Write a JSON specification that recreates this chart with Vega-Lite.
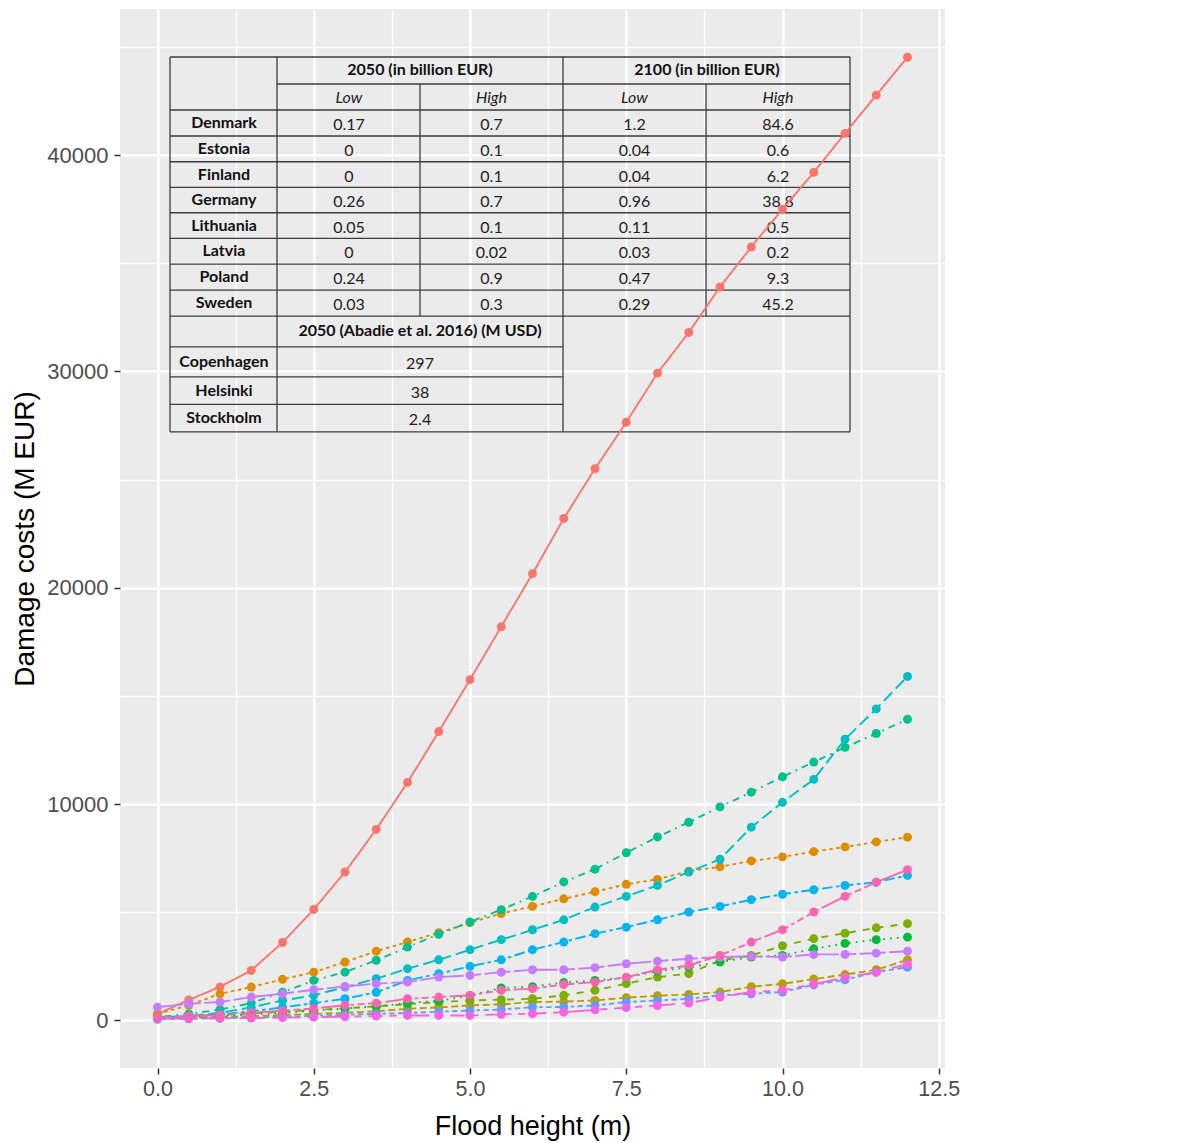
{
"$schema":"https://vega.github.io/schema/vega-lite/v6.json",
"autosize":{"type":"none"},
"width":825,"height":1059,
"padding":{"left":120,"top":9,"right":233,"bottom":75},
"background":"white",
"config":{"view":{"fill":"#EBEBEB","stroke":null},"font":"Liberation Sans"},
"datasets":{
"lines":[
{"x1":0.2,"x2":11.08,"y1":44532,"y2":44532},
{"x1":1.912,"x2":11.08,"y1":43283,"y2":43283},
{"x1":0.2,"x2":11.08,"y1":42081,"y2":42081},
{"x1":0.2,"x2":11.08,"y1":40879,"y2":40879},
{"x1":0.2,"x2":11.08,"y1":39690,"y2":39690},
{"x1":0.2,"x2":11.08,"y1":38506,"y2":38506},
{"x1":0.2,"x2":11.08,"y1":37332,"y2":37332},
{"x1":0.2,"x2":11.08,"y1":36148,"y2":36148},
{"x1":0.2,"x2":11.08,"y1":34960,"y2":34960},
{"x1":0.2,"x2":11.08,"y1":33757,"y2":33757},
{"x1":0.2,"x2":11.08,"y1":32555,"y2":32555},
{"x1":0.2,"x2":6.488,"y1":31135,"y2":31135},
{"x1":0.2,"x2":6.488,"y1":29748,"y2":29748},
{"x1":0.2,"x2":6.488,"y1":28472,"y2":28472},
{"x1":0.2,"x2":11.08,"y1":27205,"y2":27205},
{"x1":0.2,"x2":0.2,"y1":44532,"y2":27205},
{"x1":1.912,"x2":1.912,"y1":44532,"y2":27205},
{"x1":4.2,"x2":4.2,"y1":43283,"y2":32555},
{"x1":6.488,"x2":6.488,"y1":44532,"y2":27205},
{"x1":8.776,"x2":8.776,"y1":43283,"y2":32555},
{"x1":11.08,"x2":11.08,"y1":44532,"y2":27205}
],
"cells":[
{"k":"head","t":"2050 (in billion EUR)","cx":4.2,"cy":43908},
{"k":"head","t":"2100 (in billion EUR)","cx":8.792,"cy":43908},
{"k":"head","t":"2050 (Abadie et al. 2016) (M USD)","cx":4.2,"cy":31846},
{"k":"sub","t":"Low","cx":3.064,"cy":42682},
{"k":"sub","t":"High","cx":5.344,"cy":42682},
{"k":"sub","t":"Low","cx":7.632,"cy":42682},
{"k":"sub","t":"High","cx":9.928,"cy":42682},
{"k":"head","t":"Denmark","cx":1.064,"cy":41480},
{"k":"head","t":"Estonia","cx":1.064,"cy":40284},
{"k":"head","t":"Finland","cx":1.064,"cy":39098},
{"k":"head","t":"Germany","cx":1.064,"cy":37919},
{"k":"head","t":"Lithuania","cx":1.064,"cy":36740},
{"k":"head","t":"Latvia","cx":1.064,"cy":35554},
{"k":"head","t":"Poland","cx":1.064,"cy":34358},
{"k":"head","t":"Sweden","cx":1.064,"cy":33156},
{"k":"head","t":"Copenhagen","cx":1.064,"cy":30442},
{"k":"head","t":"Helsinki","cx":1.064,"cy":29110},
{"k":"head","t":"Stockholm","cx":1.064,"cy":27838},
{"k":"val","t":"0.17","cx":3.064,"cy":41480},{"k":"val","t":"0.7","cx":5.344,"cy":41480},{"k":"val","t":"1.2","cx":7.632,"cy":41480},{"k":"val","t":"84.6","cx":9.928,"cy":41480},
{"k":"val","t":"0","cx":3.064,"cy":40284},{"k":"val","t":"0.1","cx":5.344,"cy":40284},{"k":"val","t":"0.04","cx":7.632,"cy":40284},{"k":"val","t":"0.6","cx":9.928,"cy":40284},
{"k":"val","t":"0","cx":3.064,"cy":39098},{"k":"val","t":"0.1","cx":5.344,"cy":39098},{"k":"val","t":"0.04","cx":7.632,"cy":39098},{"k":"val","t":"6.2","cx":9.928,"cy":39098},
{"k":"val","t":"0.26","cx":3.064,"cy":37919},{"k":"val","t":"0.7","cx":5.344,"cy":37919},{"k":"val","t":"0.96","cx":7.632,"cy":37919},{"k":"val","t":"38.8","cx":9.928,"cy":37919},
{"k":"val","t":"0.05","cx":3.064,"cy":36740},{"k":"val","t":"0.1","cx":5.344,"cy":36740},{"k":"val","t":"0.11","cx":7.632,"cy":36740},{"k":"val","t":"0.5","cx":9.928,"cy":36740},
{"k":"val","t":"0","cx":3.064,"cy":35554},{"k":"val","t":"0.02","cx":5.344,"cy":35554},{"k":"val","t":"0.03","cx":7.632,"cy":35554},{"k":"val","t":"0.2","cx":9.928,"cy":35554},
{"k":"val","t":"0.24","cx":3.064,"cy":34358},{"k":"val","t":"0.9","cx":5.344,"cy":34358},{"k":"val","t":"0.47","cx":7.632,"cy":34358},{"k":"val","t":"9.3","cx":9.928,"cy":34358},
{"k":"val","t":"0.03","cx":3.064,"cy":33156},{"k":"val","t":"0.3","cx":5.344,"cy":33156},{"k":"val","t":"0.29","cx":7.632,"cy":33156},{"k":"val","t":"45.2","cx":9.928,"cy":33156},
{"k":"val","t":"297","cx":4.2,"cy":30442},{"k":"val","t":"38","cx":4.2,"cy":29110},{"k":"val","t":"2.4","cx":4.2,"cy":27838}
],
"series":[
{"c":"Copenhagen","h":0,"v":300},{"c":"Copenhagen","h":0.5,"v":950},{"c":"Copenhagen","h":1,"v":1550},{"c":"Copenhagen","h":1.5,"v":2310},{"c":"Copenhagen","h":2,"v":3600},{"c":"Copenhagen","h":2.5,"v":5130},{"c":"Copenhagen","h":3,"v":6860},{"c":"Copenhagen","h":3.5,"v":8830},{"c":"Copenhagen","h":4,"v":11000},{"c":"Copenhagen","h":4.5,"v":13350},{"c":"Copenhagen","h":5,"v":15750},{"c":"Copenhagen","h":5.5,"v":18200},{"c":"Copenhagen","h":6,"v":20650},{"c":"Copenhagen","h":6.5,"v":23200},{"c":"Copenhagen","h":7,"v":25500},{"c":"Copenhagen","h":7.5,"v":27650},{"c":"Copenhagen","h":8,"v":29920},{"c":"Copenhagen","h":8.5,"v":31800},{"c":"Copenhagen","h":9,"v":33900},{"c":"Copenhagen","h":9.5,"v":35750},{"c":"Copenhagen","h":10,"v":37500},{"c":"Copenhagen","h":10.5,"v":39200},{"c":"Copenhagen","h":11,"v":41000},{"c":"Copenhagen","h":11.5,"v":42770},{"c":"Copenhagen","h":12,"v":44520},
{"c":"Gdansk","h":0,"v":300},{"c":"Gdansk","h":0.5,"v":700},{"c":"Gdansk","h":1,"v":1230},{"c":"Gdansk","h":1.5,"v":1540},{"c":"Gdansk","h":2,"v":1900},{"c":"Gdansk","h":2.5,"v":2230},{"c":"Gdansk","h":3,"v":2700},{"c":"Gdansk","h":3.5,"v":3200},{"c":"Gdansk","h":4,"v":3630},{"c":"Gdansk","h":4.5,"v":4050},{"c":"Gdansk","h":5,"v":4520},{"c":"Gdansk","h":5.5,"v":4940},{"c":"Gdansk","h":6,"v":5270},{"c":"Gdansk","h":6.5,"v":5620},{"c":"Gdansk","h":7,"v":5950},{"c":"Gdansk","h":7.5,"v":6290},{"c":"Gdansk","h":8,"v":6520},{"c":"Gdansk","h":8.5,"v":6900},{"c":"Gdansk","h":9,"v":7100},{"c":"Gdansk","h":9.5,"v":7370},{"c":"Gdansk","h":10,"v":7560},{"c":"Gdansk","h":10.5,"v":7800},{"c":"Gdansk","h":11,"v":8020},{"c":"Gdansk","h":11.5,"v":8250},{"c":"Gdansk","h":12,"v":8470},
{"c":"Helsinki","h":0,"v":100},{"c":"Helsinki","h":0.5,"v":120},{"c":"Helsinki","h":1,"v":150},{"c":"Helsinki","h":1.5,"v":200},{"c":"Helsinki","h":2,"v":250},{"c":"Helsinki","h":2.5,"v":300},{"c":"Helsinki","h":3,"v":350},{"c":"Helsinki","h":3.5,"v":420},{"c":"Helsinki","h":4,"v":540},{"c":"Helsinki","h":4.5,"v":600},{"c":"Helsinki","h":5,"v":690},{"c":"Helsinki","h":5.5,"v":740},{"c":"Helsinki","h":6,"v":850},{"c":"Helsinki","h":6.5,"v":870},{"c":"Helsinki","h":7,"v":920},{"c":"Helsinki","h":7.5,"v":1050},{"c":"Helsinki","h":8,"v":1140},{"c":"Helsinki","h":8.5,"v":1200},{"c":"Helsinki","h":9,"v":1310},{"c":"Helsinki","h":9.5,"v":1560},{"c":"Helsinki","h":10,"v":1690},{"c":"Helsinki","h":10.5,"v":1910},{"c":"Helsinki","h":11,"v":2120},{"c":"Helsinki","h":11.5,"v":2340},{"c":"Helsinki","h":12,"v":2800},
{"c":"Kalmar","h":0,"v":150},{"c":"Kalmar","h":0.5,"v":200},{"c":"Kalmar","h":1,"v":250},{"c":"Kalmar","h":1.5,"v":320},{"c":"Kalmar","h":2,"v":400},{"c":"Kalmar","h":2.5,"v":480},{"c":"Kalmar","h":3,"v":560},{"c":"Kalmar","h":3.5,"v":650},{"c":"Kalmar","h":4,"v":750},{"c":"Kalmar","h":4.5,"v":850},{"c":"Kalmar","h":5,"v":920},{"c":"Kalmar","h":5.5,"v":960},{"c":"Kalmar","h":6,"v":1000},{"c":"Kalmar","h":6.5,"v":1160},{"c":"Kalmar","h":7,"v":1390},{"c":"Kalmar","h":7.5,"v":1700},{"c":"Kalmar","h":8,"v":2000},{"c":"Kalmar","h":8.5,"v":2160},{"c":"Kalmar","h":9,"v":2770},{"c":"Kalmar","h":9.5,"v":3000},{"c":"Kalmar","h":10,"v":3450},{"c":"Kalmar","h":10.5,"v":3780},{"c":"Kalmar","h":11,"v":4030},{"c":"Kalmar","h":11.5,"v":4280},{"c":"Kalmar","h":12,"v":4470},
{"c":"Klaipeda","h":0,"v":100},{"c":"Klaipeda","h":0.5,"v":150},{"c":"Klaipeda","h":1,"v":200},{"c":"Klaipeda","h":1.5,"v":280},{"c":"Klaipeda","h":2,"v":350},{"c":"Klaipeda","h":2.5,"v":450},{"c":"Klaipeda","h":3,"v":550},{"c":"Klaipeda","h":3.5,"v":650},{"c":"Klaipeda","h":4,"v":800},{"c":"Klaipeda","h":4.5,"v":900},{"c":"Klaipeda","h":5,"v":1150},{"c":"Klaipeda","h":5.5,"v":1500},{"c":"Klaipeda","h":6,"v":1560},{"c":"Klaipeda","h":6.5,"v":1750},{"c":"Klaipeda","h":7,"v":1850},{"c":"Klaipeda","h":7.5,"v":1980},{"c":"Klaipeda","h":8,"v":2280},{"c":"Klaipeda","h":8.5,"v":2460},{"c":"Klaipeda","h":9,"v":2700},{"c":"Klaipeda","h":9.5,"v":2930},{"c":"Klaipeda","h":10,"v":3000},{"c":"Klaipeda","h":10.5,"v":3310},{"c":"Klaipeda","h":11,"v":3560},{"c":"Klaipeda","h":11.5,"v":3730},{"c":"Klaipeda","h":12,"v":3850},
{"c":"Malmö","h":0,"v":150},{"c":"Malmö","h":0.5,"v":300},{"c":"Malmö","h":1,"v":500},{"c":"Malmö","h":1.5,"v":800},{"c":"Malmö","h":2,"v":1300},{"c":"Malmö","h":2.5,"v":1850},{"c":"Malmö","h":3,"v":2230},{"c":"Malmö","h":3.5,"v":2780},{"c":"Malmö","h":4,"v":3390},{"c":"Malmö","h":4.5,"v":3980},{"c":"Malmö","h":5,"v":4550},{"c":"Malmö","h":5.5,"v":5120},{"c":"Malmö","h":6,"v":5730},{"c":"Malmö","h":6.5,"v":6400},{"c":"Malmö","h":7,"v":6990},{"c":"Malmö","h":7.5,"v":7750},{"c":"Malmö","h":8,"v":8480},{"c":"Malmö","h":8.5,"v":9160},{"c":"Malmö","h":9,"v":9870},{"c":"Malmö","h":9.5,"v":10550},{"c":"Malmö","h":10,"v":11260},{"c":"Malmö","h":10.5,"v":11940},{"c":"Malmö","h":11,"v":12620},{"c":"Malmö","h":11.5,"v":13260},{"c":"Malmö","h":12,"v":13920},
{"c":"Riga","h":0,"v":100},{"c":"Riga","h":0.5,"v":200},{"c":"Riga","h":1,"v":350},{"c":"Riga","h":1.5,"v":600},{"c":"Riga","h":2,"v":920},{"c":"Riga","h":2.5,"v":1160},{"c":"Riga","h":3,"v":1540},{"c":"Riga","h":3.5,"v":1930},{"c":"Riga","h":4,"v":2390},{"c":"Riga","h":4.5,"v":2800},{"c":"Riga","h":5,"v":3270},{"c":"Riga","h":5.5,"v":3730},{"c":"Riga","h":6,"v":4190},{"c":"Riga","h":6.5,"v":4650},{"c":"Riga","h":7,"v":5240},{"c":"Riga","h":7.5,"v":5730},{"c":"Riga","h":8,"v":6240},{"c":"Riga","h":8.5,"v":6860},{"c":"Riga","h":9,"v":7450},{"c":"Riga","h":9.5,"v":8930},{"c":"Riga","h":10,"v":10080},{"c":"Riga","h":10.5,"v":11140},{"c":"Riga","h":11,"v":13000},{"c":"Riga","h":11.5,"v":14400},{"c":"Riga","h":12,"v":15900},
{"c":"Rostock","h":0,"v":100},{"c":"Rostock","h":0.5,"v":180},{"c":"Rostock","h":1,"v":280},{"c":"Rostock","h":1.5,"v":420},{"c":"Rostock","h":2,"v":600},{"c":"Rostock","h":2.5,"v":800},{"c":"Rostock","h":3,"v":1000},{"c":"Rostock","h":3.5,"v":1300},{"c":"Rostock","h":4,"v":1850},{"c":"Rostock","h":4.5,"v":2160},{"c":"Rostock","h":5,"v":2500},{"c":"Rostock","h":5.5,"v":2800},{"c":"Rostock","h":6,"v":3270},{"c":"Rostock","h":6.5,"v":3620},{"c":"Rostock","h":7,"v":4010},{"c":"Rostock","h":7.5,"v":4310},{"c":"Rostock","h":8,"v":4650},{"c":"Rostock","h":8.5,"v":5010},{"c":"Rostock","h":9,"v":5270},{"c":"Rostock","h":9.5,"v":5580},{"c":"Rostock","h":10,"v":5830},{"c":"Rostock","h":10.5,"v":6040},{"c":"Rostock","h":11,"v":6240},{"c":"Rostock","h":11.5,"v":6390},{"c":"Rostock","h":12,"v":6700},
{"c":"Stockholm","h":0,"v":50},{"c":"Stockholm","h":0.5,"v":70},{"c":"Stockholm","h":1,"v":100},{"c":"Stockholm","h":1.5,"v":130},{"c":"Stockholm","h":2,"v":170},{"c":"Stockholm","h":2.5,"v":210},{"c":"Stockholm","h":3,"v":260},{"c":"Stockholm","h":3.5,"v":300},{"c":"Stockholm","h":4,"v":340},{"c":"Stockholm","h":4.5,"v":400},{"c":"Stockholm","h":5,"v":460},{"c":"Stockholm","h":5.5,"v":500},{"c":"Stockholm","h":6,"v":610},{"c":"Stockholm","h":6.5,"v":620},{"c":"Stockholm","h":7,"v":690},{"c":"Stockholm","h":7.5,"v":850},{"c":"Stockholm","h":8,"v":920},{"c":"Stockholm","h":8.5,"v":1000},{"c":"Stockholm","h":9,"v":1160},{"c":"Stockholm","h":9.5,"v":1230},{"c":"Stockholm","h":10,"v":1310},{"c":"Stockholm","h":10.5,"v":1640},{"c":"Stockholm","h":11,"v":1880},{"c":"Stockholm","h":11.5,"v":2230},{"c":"Stockholm","h":12,"v":2460},
{"c":"Szczecin","h":0,"v":610},{"c":"Szczecin","h":0.5,"v":770},{"c":"Szczecin","h":1,"v":850},{"c":"Szczecin","h":1.5,"v":1080},{"c":"Szczecin","h":2,"v":1230},{"c":"Szczecin","h":2.5,"v":1420},{"c":"Szczecin","h":3,"v":1570},{"c":"Szczecin","h":3.5,"v":1700},{"c":"Szczecin","h":4,"v":1770},{"c":"Szczecin","h":4.5,"v":2000},{"c":"Szczecin","h":5,"v":2080},{"c":"Szczecin","h":5.5,"v":2230},{"c":"Szczecin","h":6,"v":2340},{"c":"Szczecin","h":6.5,"v":2340},{"c":"Szczecin","h":7,"v":2440},{"c":"Szczecin","h":7.5,"v":2620},{"c":"Szczecin","h":8,"v":2740},{"c":"Szczecin","h":8.5,"v":2850},{"c":"Szczecin","h":9,"v":2930},{"c":"Szczecin","h":9.5,"v":2960},{"c":"Szczecin","h":10,"v":2930},{"c":"Szczecin","h":10.5,"v":3050},{"c":"Szczecin","h":11,"v":3050},{"c":"Szczecin","h":11.5,"v":3110},{"c":"Szczecin","h":12,"v":3200},
{"c":"Tallinn","h":0,"v":80},{"c":"Tallinn","h":0.5,"v":90},{"c":"Tallinn","h":1,"v":100},{"c":"Tallinn","h":1.5,"v":110},{"c":"Tallinn","h":2,"v":130},{"c":"Tallinn","h":2.5,"v":150},{"c":"Tallinn","h":3,"v":170},{"c":"Tallinn","h":3.5,"v":200},{"c":"Tallinn","h":4,"v":230},{"c":"Tallinn","h":4.5,"v":230},{"c":"Tallinn","h":5,"v":230},{"c":"Tallinn","h":5.5,"v":280},{"c":"Tallinn","h":6,"v":310},{"c":"Tallinn","h":6.5,"v":380},{"c":"Tallinn","h":7,"v":490},{"c":"Tallinn","h":7.5,"v":590},{"c":"Tallinn","h":8,"v":690},{"c":"Tallinn","h":8.5,"v":800},{"c":"Tallinn","h":9,"v":1080},{"c":"Tallinn","h":9.5,"v":1310},{"c":"Tallinn","h":10,"v":1390},{"c":"Tallinn","h":10.5,"v":1680},{"c":"Tallinn","h":11,"v":1980},{"c":"Tallinn","h":11.5,"v":2230},{"c":"Tallinn","h":12,"v":2600},
{"c":"Turku","h":0,"v":150},{"c":"Turku","h":0.5,"v":200},{"c":"Turku","h":1,"v":250},{"c":"Turku","h":1.5,"v":350},{"c":"Turku","h":2,"v":450},{"c":"Turku","h":2.5,"v":550},{"c":"Turku","h":3,"v":700},{"c":"Turku","h":3.5,"v":800},{"c":"Turku","h":4,"v":1000},{"c":"Turku","h":4.5,"v":1080},{"c":"Turku","h":5,"v":1160},{"c":"Turku","h":5.5,"v":1390},{"c":"Turku","h":6,"v":1470},{"c":"Turku","h":6.5,"v":1660},{"c":"Turku","h":7,"v":1770},{"c":"Turku","h":7.5,"v":2000},{"c":"Turku","h":8,"v":2340},{"c":"Turku","h":8.5,"v":2540},{"c":"Turku","h":9,"v":3000},{"c":"Turku","h":9.5,"v":3620},{"c":"Turku","h":10,"v":4190},{"c":"Turku","h":10.5,"v":5010},{"c":"Turku","h":11,"v":5730},{"c":"Turku","h":11.5,"v":6390},{"c":"Turku","h":12,"v":6970}
]},
"layer":[
{"data":{"name":"lines"},"mark":{"type":"rule","color":"#3C3C3C","strokeWidth":1.3},
 "encoding":{
  "x":{"field":"x1","type":"quantitative","title":"Flood height (m)","scale":{"domain":[-0.6,12.6],"nice":false,"zero":false},
   "axis":{"values":[0,1.25,2.5,3.75,5,6.25,7.5,8.75,10,11.25,12.5],"labelExpr":"datum.value % 2.5 == 0 ? format(datum.value, '.1f') : ''","grid":true,"gridColor":"white","gridWidth":{"condition":{"test":"datum.value % 2.5 != 0","value":1.3},"value":2.5},"tickOpacity":{"condition":{"test":"datum.value % 2.5 != 0","value":0},"value":1},"tickColor":"#333333","tickWidth":1.5,"tickSize":6,"domain":false,"labelFontSize":21.5,"labelColor":"#4D4D4D","labelPadding":4,"labelFlush":false,"labelOverlap":false,"labelBound":false,"titleFontSize":27,"titleFontWeight":"normal","titleColor":"black","titlePadding":14}},
  "x2":{"field":"x2"},
  "y":{"field":"y1","type":"quantitative","title":"Damage costs (M EUR)","scale":{"domain":[-2200,46750],"nice":false,"zero":false},
   "axis":{"values":[0,5000,10000,15000,20000,25000,30000,35000,40000,45000],"labelExpr":"datum.value % 10000 == 0 ? format(datum.value, 'd') : ''","grid":true,"gridColor":"white","gridWidth":{"condition":{"test":"datum.value % 10000 != 0","value":1.3},"value":2.5},"tickOpacity":{"condition":{"test":"datum.value % 10000 != 0","value":0},"value":1},"tickColor":"#333333","tickWidth":1.5,"tickSize":6,"domain":false,"labelFontSize":22,"labelColor":"#4D4D4D","labelPadding":6,"labelFlush":false,"labelOverlap":false,"labelBound":false,"titleFontSize":28,"titleFontWeight":"normal","titleColor":"black","titlePadding":7}},
  "y2":{"field":"y2"}
 }},
{"data":{"name":"cells"},"transform":[{"filter":"datum.k == 'head'"}],"mark":{"type":"text","font":"Lato","fontWeight":"bold","fontSize":16,"color":"#111111","baseline":"middle","align":"center"},
 "encoding":{"x":{"field":"cx","type":"quantitative","title":"Flood height (m)"},"y":{"field":"cy","type":"quantitative","title":"Damage costs (M EUR)"},"text":{"field":"t"}}},
{"data":{"name":"cells"},"transform":[{"filter":"datum.k == 'sub'"}],"mark":{"type":"text","font":"Lato","fontStyle":"italic","fontSize":16,"color":"#222222","baseline":"middle","align":"center","dy":1},
 "encoding":{"x":{"field":"cx","type":"quantitative","title":"Flood height (m)"},"y":{"field":"cy","type":"quantitative","title":"Damage costs (M EUR)"},"text":{"field":"t"}}},
{"data":{"name":"cells"},"transform":[{"filter":"datum.k == 'val'"}],"mark":{"type":"text","font":"Lato","fontSize":16,"color":"#222222","baseline":"middle","align":"center","dy":2},
 "encoding":{"x":{"field":"cx","type":"quantitative","title":"Flood height (m)"},"y":{"field":"cy","type":"quantitative","title":"Damage costs (M EUR)"},"text":{"field":"t"}}},
{"data":{"name":"series"},"mark":{"type":"line","strokeWidth":1.9},
 "encoding":{
  "x":{"field":"h","type":"quantitative","title":"Flood height (m)"},
  "y":{"field":"v","type":"quantitative","title":"Damage costs (M EUR)"},
  "color":{"field":"c","type":"nominal","legend":null,
   "scale":{"domain":["Copenhagen","Gdansk","Helsinki","Kalmar","Klaipeda","Malmö","Riga","Rostock","Stockholm","Szczecin","Tallinn","Turku"],"range":["#F8766D","#DE8C00","#B79F00","#7CAE00","#00BA38","#00C08B","#00BFC4","#00B4F0","#619CFF","#C77CFF","#F564E3","#FF64B0"]}},
  "strokeDash":{"field":"c","type":"nominal","title":"city",
   "scale":{"domain":["Copenhagen","Gdansk","Helsinki","Kalmar","Klaipeda","Malmö","Riga","Rostock","Stockholm","Szczecin","Tallinn","Turku"],"range":[[1,0],[3.5,3.5],[7,3.5],[7,7],[1.7,5.2],[1.7,5.2,7,5.2],[12,5],[3.5,3.5,10.5,3.5],[1.7,3.5,3.5,3.5,5.2,3.5,7,3.5],[26,3.5,14,3.5],[26,7,7,7,14,7,7,7],[3.5,3.5,7,3.5,14,3.5,26,3.5]]},
   "legend":{"orient":"none","legendX":869,"legendY":253,"titleFontSize":26,"titleFontWeight":"normal","titleColor":"black","titlePadding":18,"labelFontSize":23,"labelColor":"black","labelOffset":21,"rowPadding":13.3,
    "symbolType":"M -1 0 L 1 0 M 0.28 0 A 0.28 0.28 0 1 1 -0.28 0 A 0.28 0.28 0 1 1 0.28 0 Z","symbolSize":1156,"symbolStrokeWidth":1.9,
    "encode":{"symbols":{"update":{"fill":{"scale":"color","field":"value"},"stroke":{"scale":"color","field":"value"},"opacity":{"value":1}}}}}}
 }},
{"data":{"name":"series"},"mark":{"type":"circle","size":80,"opacity":1},
 "encoding":{
  "x":{"field":"h","type":"quantitative","title":"Flood height (m)"},
  "y":{"field":"v","type":"quantitative","title":"Damage costs (M EUR)"},
  "color":{"field":"c","type":"nominal","legend":null}
 }}
]
}
